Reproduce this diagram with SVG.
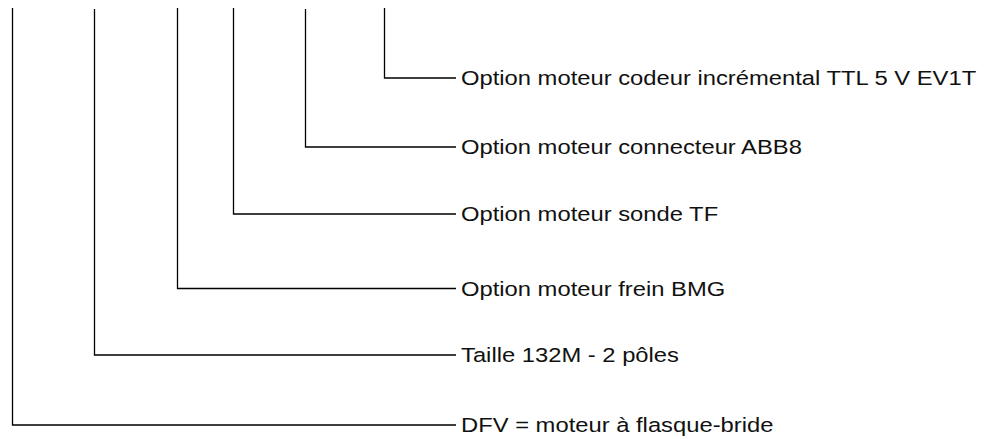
<svg xmlns="http://www.w3.org/2000/svg" width="991" height="439" viewBox="0 0 991 439">
<style>
.c{fill:none;stroke:#000;stroke-width:1.3}
.t{font-family:"Liberation Sans",Arial,sans-serif;font-size:20.5px;fill:#111}
</style>
<rect width="991" height="439" fill="#fff"/>
<g id="connectors">
<path class="c" d="M384.5,8V78H456"/>
<path class="c" d="M305.5,9V147H456"/>
<path class="c" d="M233.5,8V214H456"/>
<path class="c" d="M177.5,8V288.5H456"/>
<path class="c" d="M94.5,9V355H456"/>
<path class="c" d="M12.5,8V425H456"/>
</g>
<g id="n1"><text class="t" transform="translate(461,85) scale(1.16,1)">Option moteur codeur incrémental TTL 5 V EV1T</text></g>
<g id="n2"><text class="t" transform="translate(461,154) scale(1.16,1)">Option moteur connecteur ABB8</text></g>
<g id="n3"><text class="t" transform="translate(461,221) scale(1.16,1)">Option moteur sonde TF</text></g>
<g id="n4"><text class="t" transform="translate(461,295.5) scale(1.16,1)">Option moteur frein BMG</text></g>
<g id="n5"><text class="t" transform="translate(461,362) scale(1.16,1)">Taille 132M - 2 pôles</text></g>
<g id="n6"><text class="t" transform="translate(461,432) scale(1.16,1)">DFV = moteur à flasque-bride</text></g>
</svg>
